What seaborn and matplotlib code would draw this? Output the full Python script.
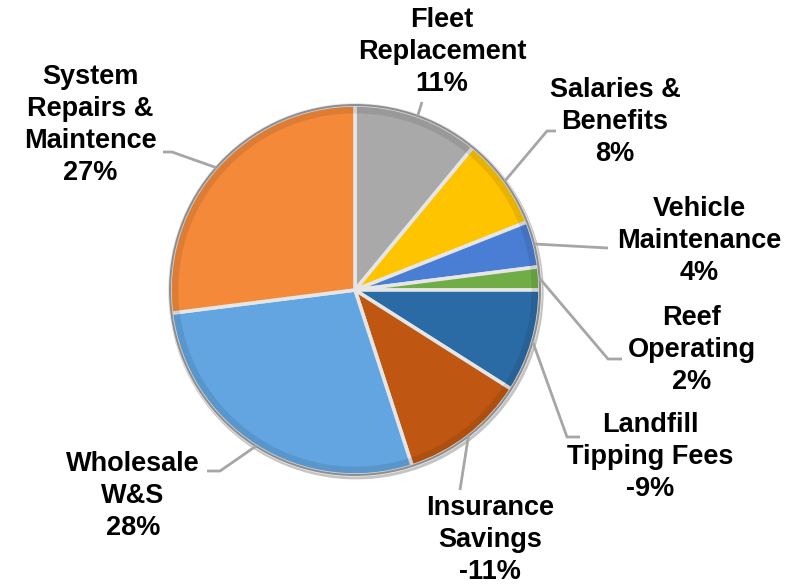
import numpy as np
import matplotlib
matplotlib.use("Agg")
import matplotlib.pyplot as plt
from matplotlib.patches import Circle, Wedge
import seaborn as sns

# Budget drivers, clockwise from 12 o'clock
categories = [
    "Fleet\nReplacement",
    "Salaries &\nBenefits",
    "Vehicle\nMaintenance",
    "Reef\nOperating",
    "Landfill\nTipping Fees",
    "Insurance\nSavings",
    "Wholesale\nW&S",
    "System\nRepairs &\nMaintence",
]
shares = [11, 8, 4, 2, -9, -11, 28, 27]
colors = ["#A9A9A9", "#FFC400", "#4A7ED4", "#70AD47",
          "#2B6BA5", "#BF5712", "#62A5E1", "#F4893A"]

sns.set_theme(style="white")
plt.rcParams["font.family"] = ["Liberation Sans", "DejaVu Sans"]

W, H = 795, 584
CX, CY, R = 355, 290, 185          # pie centre and radius in pixels


def to_data(x, y):
    return (x - CX) / R, (CY - y) / R


# label block centre and leader-line path (pixel positions)
label_layout = [
    ((442, 52), [(422, 102)]),
    ((615, 122), [(547, 131), (556, 131)]),
    ((699, 241), [(608, 248)]),
    ((692, 350), [(608, 359), (622, 359)]),
    ((650, 457), [(567, 437), (580, 437)]),
    ((490, 540), [(460, 490)]),
    ((133, 496), [(220, 471), (207, 471)]),
    ((90, 125), [(172, 152), (163, 152)]),
]

fig = plt.figure(figsize=(W / 100, H / 100), dpi=100)
ax = fig.add_axes([0, 0, 1, 1])

# soft shadow behind the pie
ax.add_patch(Circle((0.006, -0.01), 1.01, color="#c4c4c4", zorder=0))

wedges, _ = ax.pie(
    np.abs(shares), colors=colors, startangle=90, counterclock=False,
    radius=1.0, wedgeprops=dict(edgecolor="#E6E6E6", linewidth=2.6),
)
for w in wedges:
    w.set_zorder(1)
    # darker band along the rim for a bevelled look
    ring = Wedge((0, 0), 1.0, w.theta1, w.theta2, width=0.045,
                 color="black", alpha=0.09, lw=0, zorder=2)
    ax.add_patch(ring)

ax.add_patch(Circle((0, 0), 1.0, fill=False, ec="#8e8e8e", lw=1.4, zorder=3))

for w, name, val, (tpos, path) in zip(wedges, categories, shares, label_layout):
    mid = np.deg2rad((w.theta1 + w.theta2) / 2)
    pts = [(np.cos(mid), np.sin(mid))] + [to_data(*p) for p in path]
    xs, ys = zip(*pts)
    ax.plot(xs, ys, color="#A6A6A6", lw=2, solid_capstyle="butt", zorder=4)
    tx, ty = to_data(*tpos)
    ax.text(tx, ty, f"{name}\n{val}%", ha="center", va="center",
            multialignment="center", fontsize=19.5, fontweight="bold",
            color="black", linespacing=1.31, zorder=5)

ax.set_xlim(-CX / R, (W - CX) / R)
ax.set_ylim((CY - H) / R, CY / R)
ax.set_aspect("auto")
ax.axis("off")

fig.savefig("out.png", dpi=100, facecolor="white")
